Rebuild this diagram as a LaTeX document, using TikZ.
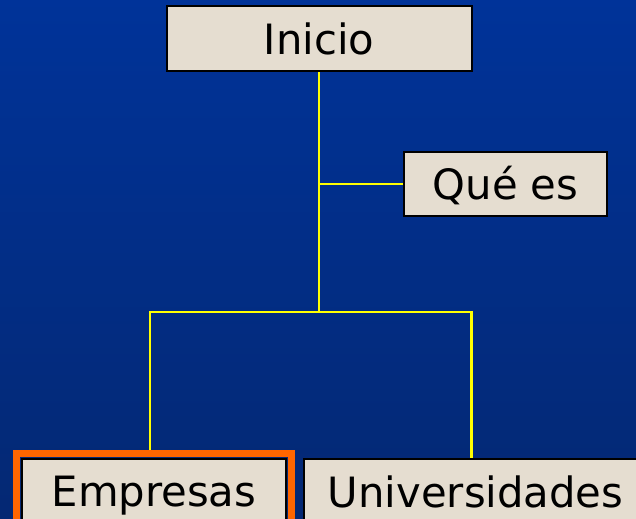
\documentclass[tikz,border=0pt]{standalone}
\usepackage{xcolor}
\usepackage{fontspec}
\setmainfont{DejaVu Sans}
\usepackage{tikz}
\definecolor{fondo-alto}{RGB}{0, 51, 153}
\definecolor{fondo-bajo}{RGB}{4, 40, 115}
\definecolor{papel}{RGB}{229, 221, 208}
\definecolor{linea-amarilla}{RGB}{255, 255, 0}
\definecolor{marco-naranja}{RGB}{255, 102, 0}

\begin{document}
\begin{tikzpicture}[
    caja/.style={draw=black, line width=0.05cm, fill=papel, inner sep=0pt,
        text height=0.76cm, text depth=0cm,
        font=\fontsize{29.7}{34}\selectfont},
    rama/.style={draw=linea-amarilla, line width=0.065cm}]
    \useasboundingbox (0,0) rectangle (15.9,-12.95);
    \shade[top color=fondo-alto, bottom color=fondo-bajo] (0,0) rectangle (15.9,-12.95);

    \node[caja, minimum width=7.625cm, minimum height=1.625cm] (inicio) at (7.975,-0.97) {Inicio};
    \node[caja, minimum width=5.075cm, minimum height=1.6cm] (quees) at (12.64,-4.6) {Qué es};
    \node[caja, minimum width=6.6cm, minimum height=1.6cm] (empresas) at (3.85,-12.28) {Empresas};
    \node[caja, minimum width=8.575cm, minimum height=1.65cm] (universidades) at (11.89,-12.3) {Universidades};
    \draw[marco-naranja, line width=0.175cm] ([shift={(-0.11,0.11)}]empresas.north west) rectangle ([shift={(0.11,-0.11)}]empresas.south east);

    \coordinate (cruce) at (7.975,-7.8);
    \draw[rama] (inicio) -- (cruce);
    \draw[rama] (inicio.south |- quees.west) -- (quees.west);
    \draw[rama] ([xshift=-0.1cm]empresas.north) ++(0,0.2) |- (cruce) -| ([xshift=-0.11cm]universidades.north);
\end{tikzpicture}
\end{document}
